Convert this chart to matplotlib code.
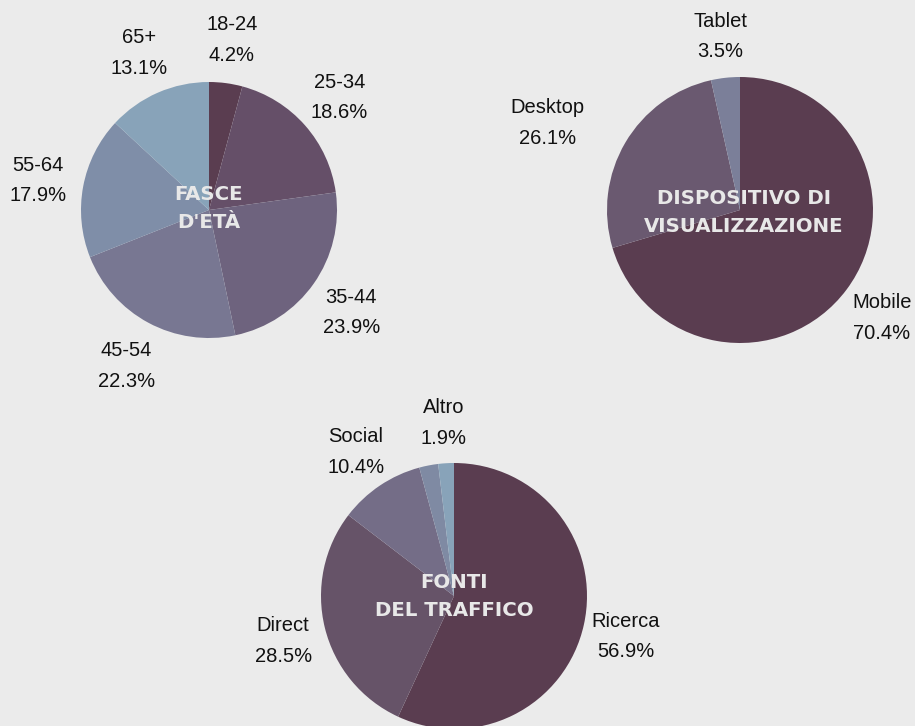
import matplotlib
matplotlib.use("Agg")
import matplotlib.pyplot as plt
import numpy as np

# ---- data ----
age_labels = ["18-24", "25-34", "35-44", "45-54", "55-64", "65+"]
age_values = [4.2, 18.6, 23.9, 22.3, 17.9, 13.1]
age_colors = ["#5a3d50", "#654f68", "#6e637e", "#787792", "#7f8ea8", "#88a3b9"]

dev_labels = ["Mobile", "Desktop", "Tablet"]
dev_values = [70.4, 26.1, 3.5]
dev_colors = ["#5a3d50", "#6a5970", "#7b7f99"]

src_labels = ["Ricerca", "Direct", "Social", "", "Altro"]
src_values = [56.9, 28.5, 10.4, 2.3, 1.9]
src_colors = ["#5a3d50", "#665368", "#746d87", "#7f8aa3", "#88a3b9"]

W, H = 915, 726
BG = "#ebebeb"
LABEL_DY = -2.5  # labels sit slightly below the radial point

fig = plt.figure(figsize=(W / 100, H / 100), dpi=100, facecolor=BG)
ax = fig.add_axes([0, 0, 1, 1])
ax.set_facecolor(BG)


def draw_pie(values, labels, colors, center, radius, label_px, title,
             shift=None, title_dx=0, title_dy=-1):
    wedges, _ = ax.pie(values, colors=colors, startangle=90, counterclock=False,
                       center=center, radius=radius, frame=True,
                       wedgeprops=dict(linewidth=0))
    for w, lab, v in zip(wedges, labels, values):
        if not lab:
            continue
        ang = np.deg2rad((w.theta1 + w.theta2) / 2)
        x = center[0] + label_px * np.cos(ang)
        y = center[1] + label_px * np.sin(ang) + LABEL_DY
        if shift and lab in shift:
            x += shift[lab][0]
            y += shift[lab][1]
        ax.text(x, y, f"{lab}\n{v:.1f}%", ha="center", va="center",
                fontsize=14.5, family="Liberation Sans", color="#111111",
                linespacing=1.78)
    ax.text(center[0] + title_dx, center[1] + title_dy, title, ha="center",
            va="center", fontsize=14.2, family="DejaVu Sans",
            fontweight="bold", color="#e8e8e8", linespacing=1.6)


draw_pie(age_values, age_labels, age_colors, (209, H - 210), 128, 174,
         "FASCE\nD'ETÀ", title_dy=2)
draw_pie(dev_values, dev_labels, dev_colors, (740, H - 210), 133, 177,
         "DISPOSITIVO DI\nVISUALIZZAZIONE", shift={"Desktop": (-40, 0)},
         title_dx=4, title_dy=-2)
draw_pie(src_values, src_labels, src_colors, (454, H - 596), 133, 176,
         "FONTI\nDEL TRAFFICO")

ax.set_xlim(0, W)
ax.set_ylim(0, H)
ax.set_aspect("equal")
ax.axis("off")

fig.savefig("out.png", dpi=100, facecolor=BG)
